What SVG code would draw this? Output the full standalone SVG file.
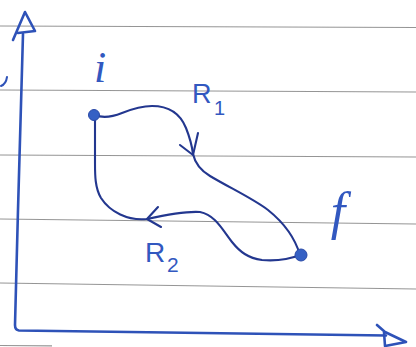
<svg xmlns="http://www.w3.org/2000/svg" width="416" height="347" viewBox="0 0 416 347">
  <style>
    .rule { stroke: #7a7a7a; stroke-width: 1.2; fill: none; opacity: 0.8; }
    .axis { stroke: #2e52b8; stroke-width: 2.6; fill: none; stroke-linecap: round; stroke-linejoin: round; }
    .path { stroke: #23378f; stroke-width: 2.1; fill: none; stroke-linecap: round; stroke-linejoin: round; }
    .dot { fill: #3560c4; stroke: #2a4aa8; stroke-width: 1; }
    .lbl { fill: #3258c0; font-family: "Liberation Sans", Arial, sans-serif; }
    .var { fill: #3258c0; font-family: "Liberation Serif", "Times New Roman", serif; font-style: italic; }
  </style>

  <rect width="416" height="347" fill="#ffffff"/>

  <!-- ruled paper -->
  <g id="paper">
    <line class="rule" x1="0" y1="26" x2="416" y2="27.5"/>
    <line class="rule" x1="0" y1="90" x2="416" y2="92"/>
    <line class="rule" x1="0" y1="155" x2="416" y2="157"/>
    <line class="rule" x1="0" y1="219" x2="416" y2="224"/>
    <line class="rule" x1="0" y1="283" x2="416" y2="289"/>
    <line class="rule" x1="0" y1="345.5" x2="52" y2="345.8" opacity="0.5"/>
    <path d="M1,86 Q6,84 7,77" stroke="#2e52b8" stroke-width="2" fill="none" stroke-linecap="round"/>
  </g>

  <!-- axes -->
  <g id="axes">
    <path class="axis" d="M23,34 C21,120 17,230 15,325 Q15,330 19,330.5 L386,335.5"/>
    <path class="axis" d="M13,40 L25,12 L35,31 L18,33"/>
    <path class="axis" d="M377,325 L385,332 L406,342 L385,346 L384,332"/>
  </g>

  <!-- process curves between the states -->
  <g id="connectors">
    <g id="R1">
      <path class="path" d="M95,115 C102,118 112,117 122,113 C132,109 142,106 152,106 C168,106 180,113 186,128 C190,138 192,146 193,154 C195,163 200,170 210,176 C230,188 252,198 268,210 C283,222 295,238 300,255"/>
      <path class="path" d="M180,145 L193,155 L198,133"/>
      <text class="lbl" x="192" y="103" font-size="27">R</text>
      <text class="lbl" x="214" y="115" font-size="20">1</text>
    </g>
    <g id="R2">
      <path class="path" d="M300,255 C290,259 275,261 262,260 C248,258 240,252 232,242 C222,229 215,215 200,212 C185,211 165,215 147,219 C128,221 110,212 101,198 C95,188 95,175 95,163 C95,150 95,130 95,115"/>
      <path class="path" d="M158,207 L147,219 L161,227"/>
      <text class="lbl" x="145" y="262" font-size="28">R</text>
      <text class="lbl" x="167" y="272" font-size="21">2</text>
    </g>
  </g>

  <!-- initial state -->
  <g id="node-i">
    <circle class="dot" cx="94" cy="115" r="5.5"/>
    <text class="var" x="100" y="82" font-size="44" text-anchor="middle">i</text>
  </g>

  <!-- final state -->
  <g id="node-f">
    <circle class="dot" cx="301" cy="255" r="6"/>
    <text class="var" x="338" y="229" font-size="52" text-anchor="middle">f</text>
  </g>
</svg>
